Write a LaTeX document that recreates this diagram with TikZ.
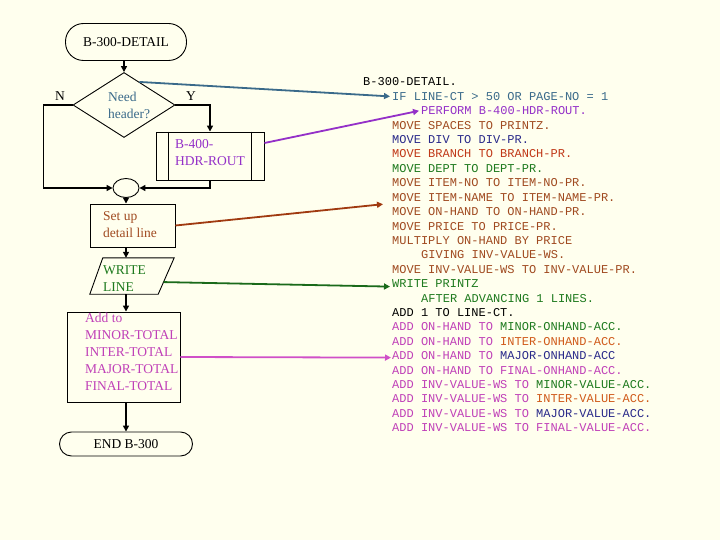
\documentclass[tikz,border=0pt]{standalone}
\usepackage{fontspec}
\setmainfont{Liberation Serif}
\newfontfamily\codefont{Liberation Mono}
\usetikzlibrary{arrows.meta,shapes.geometric,calc}
\definecolor{bgc}{HTML}{FFFFEE}
\definecolor{steel}{HTML}{3A6A8A}
\definecolor{purp}{HTML}{9430C8}
\definecolor{brn}{HTML}{A04A20}
\definecolor{navy}{HTML}{2A2A8A}
\definecolor{redor}{HTML}{C03818}
\definecolor{grn}{HTML}{1E7A1E}
\definecolor{orng}{HTML}{D05A1A}
\definecolor{pnk}{HTML}{C040B8}
\definecolor{brnline}{HTML}{A03A10}
\definecolor{grnline}{HTML}{1A6A1A}
\definecolor{pnkline}{HTML}{D050C8}
\begin{document}
\begin{tikzpicture}[x=1pt,y=-1pt,
  box/.style={draw=black, line width=0.9pt, inner sep=0pt},
  flowtext/.style={font=\fontsize{13.5}{17}\selectfont, align=left, inner sep=0pt, anchor=west},
  flow/.style={draw=black, line width=1.8pt, -{Triangle[length=6pt,width=6pt]}},
  plain/.style={draw=black, line width=1.8pt},
  link/.style={line width=1.8pt, -{Triangle[length=6pt,width=6pt]}},
  code/.style={anchor=west, inner sep=0pt, text height=8pt, text depth=0pt,
    font=\codefont\fontsize{12}{14.4}\selectfont}]
\fill[bgc] (0,0) rectangle (720,540);
\useasboundingbox (0,0) rectangle (720,540);

% flowchart shapes
\node[box, rectangle, rounded corners=18pt, minimum width=121pt, minimum height=37pt,
  font=\fontsize{13.5}{17}\selectfont] (start) at (126,42) {B-300-DETAIL};
\node[box, diamond, minimum width=102pt, minimum height=65pt] (dia) at (124,105) {};
\node[flowtext, text=steel] (diatext) at (108,105) {Need\\header?};
\node[font=\fontsize{13.5}{17}\selectfont, inner sep=0pt] (nlab) at (60,96) {N};
\node[font=\fontsize{13.5}{17}\selectfont, inner sep=0pt] (ylab) at (191,96) {Y};

\node[box, rectangle, minimum width=108pt, minimum height=48pt] (hdr) at (210,156) {};
\draw[line width=0.9pt] ([xshift=13pt]hdr.north west) -- ([xshift=13pt]hdr.south west);
\draw[line width=0.9pt] ([xshift=-13pt]hdr.north east) -- ([xshift=-13pt]hdr.south east);
\node[flowtext, text=purp] (hdrtext) at (175,153) {B-400-\\HDR-ROUT};

\node[box, ellipse, minimum width=26pt, minimum height=19pt] (merge) at (126,188) {};

\node[box, rectangle, minimum width=85pt, minimum height=43pt] (setup) at (132.5,225.5) {};
\node[flowtext, text=brn] (setuptext) at (103,224.5) {Set up\\detail line};

\node[rectangle, inner sep=0pt, minimum width=84pt, minimum height=36pt] (write) at (132,276) {};
\draw[line width=0.9pt] ([xshift=13pt]write.north west) -- (write.north east)
  -- ([xshift=-16pt]write.south east) -- (write.south west) -- cycle;
\node[flowtext, text=grn] (writetext) at (103,278.5) {WRITE\\LINE};

\node[box, rectangle, minimum width=113pt, minimum height=90pt] (add) at (123.5,357) {};
\node[flowtext, text=pnk] (addtext) at (85,351.5) {Add to\\MINOR-TOTAL\\INTER-TOTAL\\MAJOR-TOTAL\\FINAL-TOTAL};

\node[box, rectangle, rounded corners=12pt, minimum width=133pt, minimum height=24pt,
  font=\fontsize{13.5}{17}\selectfont] (end) at (126,444) {END B-300};

% flow connectors
\draw[flow] (start.south -| dia.north) -- (dia.north);
\draw[flow] (dia.west) -- ++(-29,0) |- (merge.west);
\draw[flow] (dia.east) -| (hdr.north);
\draw[flow] (hdr.south) |- (merge.east);
\draw[flow] (merge.south) -- (merge.south |- setup.north);
\draw[flow] (setup.south -| merge.south) -- (write.north -| merge.south);
\draw[flow] (write.south -| merge.south) -- (add.north -| merge.south);
\draw[flow] (add.south -| merge.south) -- (end.north -| merge.south);

% code listing
\node[code, text=black] (c0) at (363,82) {B-300-DETAIL.};
\node[code, text=steel] (c1) at (392,96.4) {IF LINE-CT > 50 OR PAGE-NO = 1};
\node[code, text=purp] (c2) at (421,110.8) {PERFORM B-400-HDR-ROUT.};
\node[code, text=brn] (c3) at (392,125.2) {MOVE SPACES TO PRINTZ.};
\node[code, text=navy] (c4) at (392,139.6) {MOVE DIV TO DIV-PR.};
\node[code, text=redor] (c5) at (392,154) {MOVE BRANCH TO BRANCH-PR.};
\node[code, text=grn] (c6) at (392,168.4) {MOVE DEPT TO DEPT-PR.};
\node[code, text=brn] (c7) at (392,182.8) {MOVE ITEM-NO TO ITEM-NO-PR.};
\node[code, text=brn] (c8) at (392,197.2) {MOVE ITEM-NAME TO ITEM-NAME-PR.};
\node[code, text=brn] (c9) at (392,211.6) {MOVE ON-HAND TO ON-HAND-PR.};
\node[code, text=brn] (c10) at (392,226) {MOVE PRICE TO PRICE-PR.};
\node[code, text=brn] (c11) at (392,240.4) {MULTIPLY ON-HAND BY PRICE};
\node[code, text=brn] (c12) at (421,254.8) {GIVING INV-VALUE-WS.};
\node[code, text=brn] (c13) at (392,269.2) {MOVE INV-VALUE-WS TO INV-VALUE-PR.};
\node[code, text=grn] (c14) at (392,283.6) {WRITE PRINTZ};
\node[code, text=grn] (c15) at (421,298) {AFTER ADVANCING 1 LINES.};
\node[code, text=black] (c16) at (392,312.4) {ADD 1 TO LINE-CT.};
\node[code, text=pnk] (c17) at (392,326.8) {ADD ON-HAND TO \textcolor{grn}{MINOR-ONHAND-ACC.}};
\node[code, text=pnk] (c18) at (392,341.2) {ADD ON-HAND TO \textcolor{orng}{INTER-ONHAND-ACC.}};
\node[code, text=pnk] (c19) at (392,355.6) {ADD ON-HAND TO \textcolor{navy}{MAJOR-ONHAND-ACC}};
\node[code, text=pnk] (c20) at (392,370) {ADD ON-HAND TO FINAL-ONHAND-ACC.};
\node[code, text=pnk] (c21) at (392,384.4) {ADD INV-VALUE-WS TO \textcolor{grn}{MINOR-VALUE-ACC.}};
\node[code, text=pnk] (c22) at (392,398.8) {ADD INV-VALUE-WS TO \textcolor{orng}{INTER-VALUE-ACC.}};
\node[code, text=pnk] (c23) at (392,413.2) {ADD INV-VALUE-WS TO \textcolor{navy}{MAJOR-VALUE-ACC.}};
\node[code, text=pnk] (c24) at (392,427.6) {ADD INV-VALUE-WS TO FINAL-VALUE-ACC.};

% links from chart to code
\draw[link, steel] ($(dia.north)!0.3!(dia.east)$) -- ([xshift=-2pt]c1.west);
\draw[link, purp] ([yshift=13pt]hdr.east) -- ([xshift=-2pt]c2.west);
\draw[link, brnline] (setup.east) -- ([shift={(-9pt,-7pt)}]c8.west);
\draw[link, grnline] ($(write.north east)!0.667!([xshift=-16pt]write.south east)$) -- ([shift={(-2pt,-3pt)}]c14.west);
\draw[link, pnkline] (add.east) -- ([shift={(-1pt,-2pt)}]c19.west);
\end{tikzpicture}
\end{document}
